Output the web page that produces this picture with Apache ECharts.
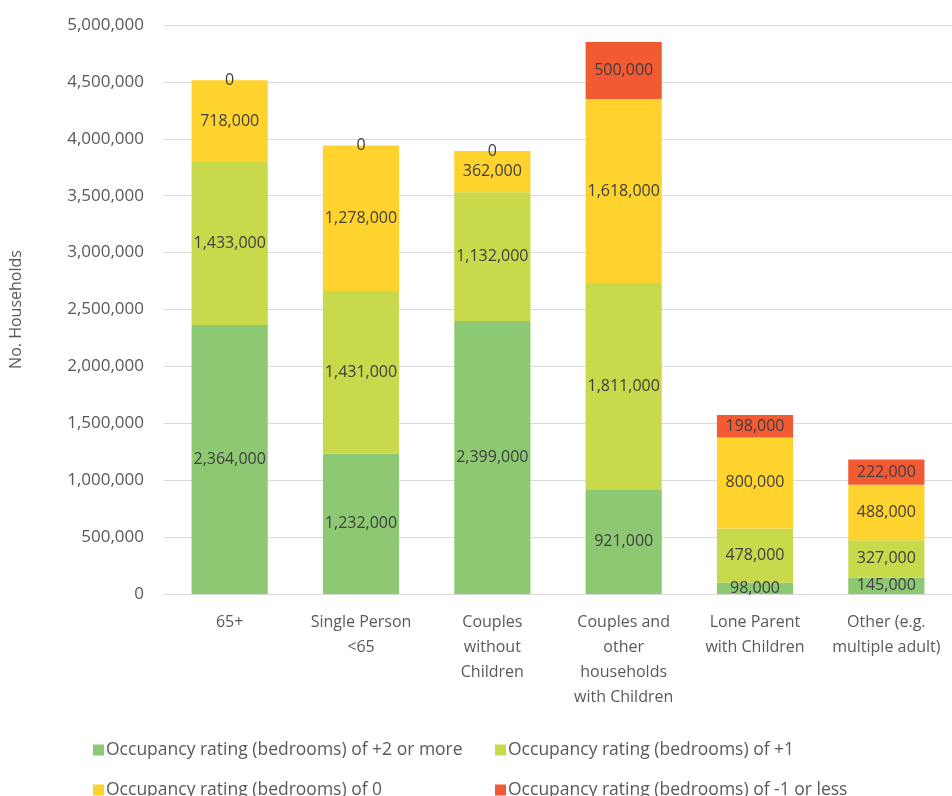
<!DOCTYPE html>
<html><head><meta charset="utf-8">
<script src="https://cdn.jsdelivr.net/npm/echarts@6/dist/echarts.min.js"></script>
<style>html,body{margin:0;padding:0;background:#fff}#c{width:952px;height:796px}</style>
</head><body><div id="c"></div>
<script>
const categories = ["65+", "Single Person\n<65", "Couples\nwithout\nChildren", "Couples and\nother\nhouseholds\nwith Children", "Lone Parent\nwith Children", "Other (e.g.\nmultiple adult)"];
const seriesNames = ["Occupancy rating (bedrooms) of +2 or more", "Occupancy rating (bedrooms) of +1", "Occupancy rating (bedrooms) of 0", "Occupancy rating (bedrooms) of -1 or less"];
const plus2 = [2364000, 1232000, 2399000, 921000, 98000, 145000];
const plus1 = [1433000, 1431000, 1132000, 1811000, 478000, 327000];
const zero = [718000, 1278000, 362000, 1618000, 800000, 488000];
const minus1 = [0, 0, 0, 500000, 198000, 222000];
const yTicks = {min: 0, max: 5000000, interval: 500000};
const colors = ["#8DC873", "#C8D94B", "#FFD32D", "#F15A33"];
const allData = [plus2, plus1, zero, minus1];
const font = "'Open Sans', sans-serif";
const fmt = v => v.toLocaleString('en-US');
const chart = echarts.init(document.getElementById('c'));
const legendPos = [[88, 736], [490, 736], [88, 776], [490, 776]];
chart.setOption({
  animation: false,
  color: colors,
  grid: {left: 163, right: 0, top: 25, bottom: 202},
  legend: seriesNames.map((n, i) => ({
    data: [n], left: legendPos[i][0], top: legendPos[i][1],
    itemWidth: 11, itemHeight: 11, itemGap: 4, icon: 'rect',
    textStyle: {color: '#595959', fontSize: 17.5, fontFamily: font, padding: [0,0,0,-3]}
  })),
  xAxis: {
    type: 'category', data: categories,
    axisLine: {lineStyle: {color: '#d9d9d9'}}, axisTick: {show: false},
    axisLabel: {color: '#595959', fontSize: 16, fontFamily: font, lineHeight: 25, margin: 16, interval: 0}
  },
  yAxis: {
    type: 'value', min: yTicks.min, max: yTicks.max, interval: yTicks.interval,
    name: 'No. Households', nameLocation: 'middle', nameGap: 140, nameRotate: 90,
    nameTextStyle: {color: '#595959', fontSize: 16, fontFamily: font},
    splitLine: {lineStyle: {color: '#d9d9d9'}},
    axisLabel: {color: '#595959', fontSize: 17, fontFamily: font, margin: 20, formatter: fmt}
  },
  series: seriesNames.map((n, i) => ({
    name: n, type: 'bar', stack: 'all', data: allData[i], barWidth: '58%',
    label: {show: true, position: 'inside', color: '#404040', fontSize: 16, fontFamily: font,
      formatter: p => fmt(p.value)}
  }))
});
</script></body></html>
